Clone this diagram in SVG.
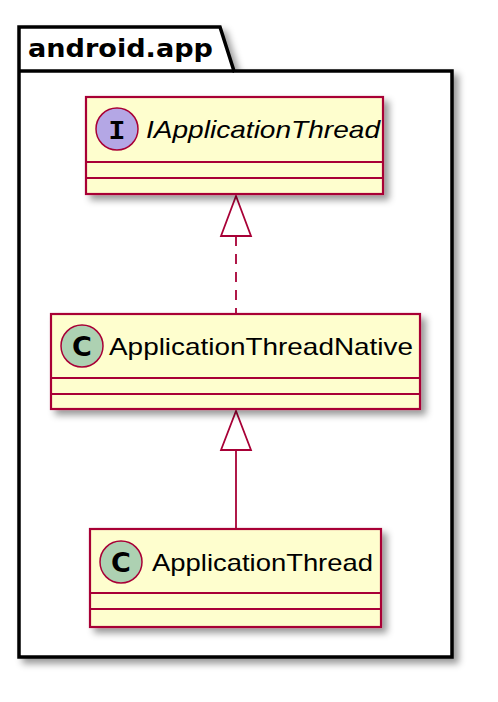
<svg xmlns="http://www.w3.org/2000/svg" width="498" height="702" viewBox="0 0 498 702">
<defs>
<filter id="sh" x="-10%" y="-10%" width="130%" height="130%">
<feDropShadow dx="5" dy="5" stdDeviation="3.5" flood-color="#000" flood-opacity="0.4"/>
</filter>
</defs>
<style>
.box{fill:#FEFECE;stroke:#A80036;stroke-width:2.2}
.sep{stroke:#A80036;stroke-width:2.2}
.cname{font-family:"Liberation Sans",Arial,sans-serif;font-size:24px;fill:#000}
.lc{fill:#ADD1B2;stroke:#A80036;stroke-width:1.5}
.li{fill:#B4A7E5;stroke:#A80036;stroke-width:1.5}
.edge{stroke:#A80036;stroke-width:1.8;fill:none}
.head{fill:#fff;stroke:#A80036;stroke-width:1.8}
</style>
<g id="pkg">
<path d="M19,27 L220,27 L234,71 L452,71 L452,657 L19,657 Z" fill="#fff" stroke="#000" stroke-width="3.5" filter="url(#sh)"/>
<line x1="19" y1="71" x2="234" y2="71" stroke="#000" stroke-width="3.5"/>
<text x="28" y="57" font-family="DejaVu Sans,sans-serif" font-weight="bold" font-size="25" textLength="185" lengthAdjust="spacingAndGlyphs">android.app</text>
</g>
<g id="connectors">
<line class="edge" x1="236" y1="236" x2="236" y2="314" stroke-dasharray="10,8"/>
<polygon class="head" points="236,196 221,236 251,236"/>
<line class="edge" x1="236" y1="450" x2="236" y2="529"/>
<polygon class="head" points="236,411 221,450 251,450"/>
</g>
<g id="IApplicationThread">
<rect class="box" x="86" y="97" width="297" height="97" filter="url(#sh)"/>
<line class="sep" x1="86" y1="162" x2="383" y2="162"/>
<line class="sep" x1="86" y1="178" x2="383" y2="178"/>
<circle class="li" cx="117" cy="129" r="21"/>
<text x="117" y="139" text-anchor="middle" font-family="Liberation Mono,monospace" font-weight="bold" font-size="28">I</text>
<text class="cname" x="146" y="138" font-style="italic" textLength="234" lengthAdjust="spacingAndGlyphs">IApplicationThread</text>
</g>
<g id="ApplicationThreadNative">
<rect class="box" x="51" y="314" width="369" height="95" filter="url(#sh)"/>
<line class="sep" x1="51" y1="378" x2="420" y2="378"/>
<line class="sep" x1="51" y1="394" x2="420" y2="394"/>
<circle class="lc" cx="82" cy="346" r="21"/>
<text x="82" y="356" text-anchor="middle" font-family="DejaVu Sans,sans-serif" font-weight="bold" font-size="27">C</text>
<text class="cname" x="109" y="355" textLength="304" lengthAdjust="spacingAndGlyphs">ApplicationThreadNative</text>
</g>
<g id="ApplicationThread">
<rect class="box" x="90" y="529" width="291" height="98" filter="url(#sh)"/>
<line class="sep" x1="90" y1="593" x2="381" y2="593"/>
<line class="sep" x1="90" y1="609" x2="381" y2="609"/>
<circle class="lc" cx="121" cy="562" r="21"/>
<text x="121" y="572" text-anchor="middle" font-family="DejaVu Sans,sans-serif" font-weight="bold" font-size="27">C</text>
<text class="cname" x="152" y="571" textLength="221" lengthAdjust="spacingAndGlyphs">ApplicationThread</text>
</g>
</svg>
